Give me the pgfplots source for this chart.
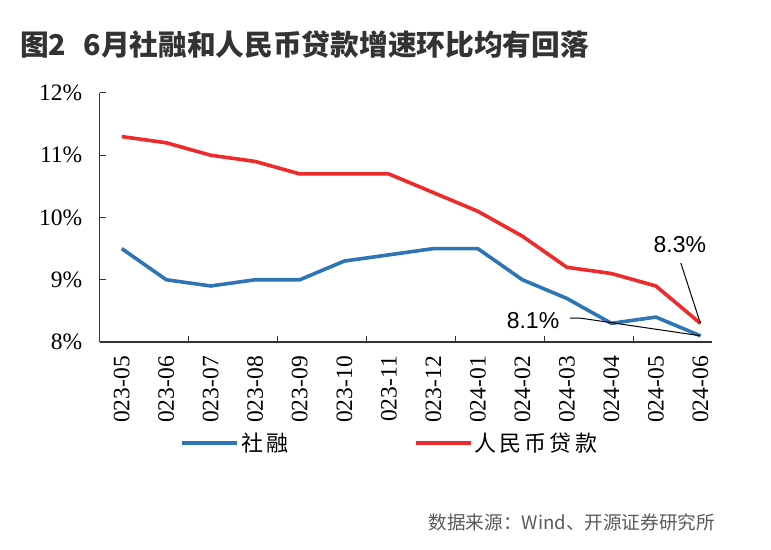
\documentclass[border=0pt]{standalone}
\usepackage{pgfplots}
\pgfplotsset{compat=1.18}
\usepackage{fontspec}
\setmainfont{Liberation Serif}
\newfontfamily\cjk{Noto Sans CJK SC}
\newfontfamily\cjkleg{Noto Sans CJK SC}[LetterSpace=14]
\newfontfamily\arial{Liberation Sans}

\definecolor{sfblue}{HTML}{2E75B6}
\definecolor{loanred}{HTML}{EE2A2A}

\pgfplotstableread{
x sf loan
0 9.5 11.3
1 9.0 11.2
2 8.9 11.0
3 9.0 10.9
4 9.0 10.7
5 9.3 10.7
6 9.4 10.7
7 9.5 10.4
8 9.5 10.1
9 9.0 9.7
10 8.7 9.2
11 8.3 9.1
12 8.4 8.9
13 8.1 8.3
}\growth

\begin{document}
\begin{tikzpicture}
\path[use as bounding box] (0,0) rectangle (771bp,550bp);
\node[anchor=west, font=\cjk\bfseries\fontsize{28.7bp}{32bp}\selectfont, text=black!80, inner sep=0pt] at (20bp,505bp) {图2\hspace{0.6em}6月社融和人民币贷款增速环比均有回落};
\node[anchor=east, font=\cjk\fontsize{18.6bp}{22bp}\selectfont, text=black!65, inner sep=0pt] at (715bp,28bp) {数据来源：Wind、开源证券研究所};
\begin{axis}[
  at={(99.5bp,208bp)}, anchor=south west,
  scale only axis, width=612bp, height=249bp,
  xmin=-0.5, xmax=13.25, ymin=8, ymax=12,
  axis lines=left,
  axis line style={-, line width=1.2bp, black!80},
  clip=false,
  tick align=inside,
  xtick={0,...,13},
  major x tick style={draw=none},
  xticklabels={023-05,023-06,023-07,023-08,023-09,023-10,023-11,023-12,024-01,024-02,024-03,024-04,024-05,024-06},
  minor xtick={1.5,3.5,5.5,7.5,9.5,11.5},
  minor tick length=6bp,
  minor x tick style={line width=1bp, black!80},
  xticklabel style={rotate=90, anchor=east, font=\fontsize{23.5bp}{26bp}\selectfont, inner sep=0pt, xshift=-14bp},
  ytick={8,9,10,11,12},
  yticklabels={8\%,9\%,10\%,11\%,12\%},
  major tick length=6bp,
  major y tick style={line width=1bp, black!80},
  yticklabel style={anchor=east, font=\fontsize{23.5bp}{26bp}\selectfont, inner sep=0pt, xshift=-17bp},
  legend style={at={(0.132,-0.406)}, anchor=west, draw=none, fill=none, inner sep=0pt,
    font=\cjkleg\fontsize{22bp}{24bp}\selectfont,
    /tikz/every even column/.append style={column sep=124bp}},
  legend columns=2,
  legend image code/.code={\draw[#1] (0bp,0bp) -- (55bp,0bp);},
]
\addplot[sfblue, line width=3.6bp, line join=round] table[x=x, y=sf] {\growth};
\addlegendentry{社融}
\addplot[loanred, line width=3.6bp, line join=round] table[x=x, y=loan] {\growth};
\addlegendentry{人民币贷款}
\draw[black, line width=1bp] (axis cs:12.56,9.27) -- (axis cs:13,8.3);
\draw[black, line width=1bp] (axis cs:10.07,8.385) -- (axis cs:10.29,8.385) -- (axis cs:13,8.1);
\node[font=\arial\fontsize{23bp}{26bp}\selectfont] at (axis cs:12.54,9.56) {8.3\%};
\node[font=\arial\fontsize{23bp}{26bp}\selectfont] at (axis cs:9.24,8.35) {8.1\%};
\end{axis}
\end{tikzpicture}
\end{document}
